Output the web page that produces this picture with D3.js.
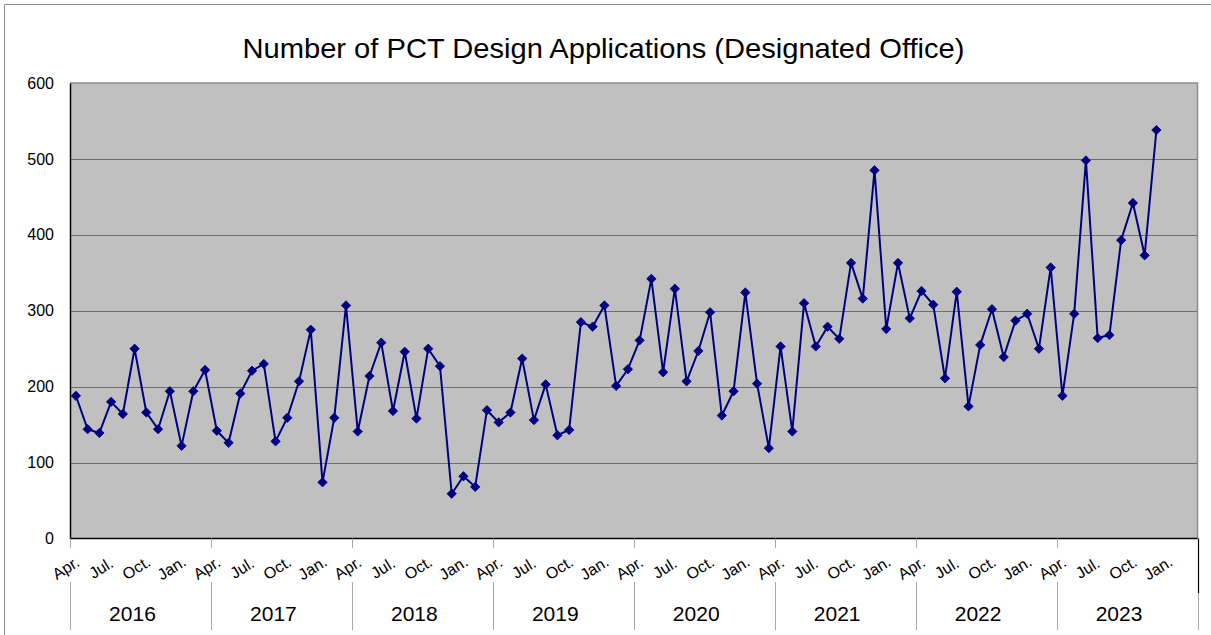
<!DOCTYPE html>
<html>
<head>
<meta charset="utf-8">
<script src="https://cdn.jsdelivr.net/npm/d3@7"></script>
<style>
  html, body { margin: 0; padding: 0; background: #fff; }
  svg { display: block; font-family: "Liberation Sans", Arial, sans-serif; }
</style>
</head>
<body>
<svg id="chart" width="1211" height="635"></svg>
<script>
// ---- data ----
const title = "Number of PCT Design Applications (Designated Office)";
const fiscalYears = ["2016", "2017", "2018", "2019", "2020", "2021", "2022", "2023"];
const months = ["Apr.", "May", "Jun.", "Jul.", "Aug.", "Sep.", "Oct.", "Nov.", "Dec.", "Jan.", "Feb.", "Mar."];
const labeledMonths = ["Apr.", "Jul.", "Oct.", "Jan."];
const yTicks = [0, 100, 200, 300, 400, 500, 600];
// monthly values, Apr. 2016 ... Dec. 2023
const applications = [
  188, 144, 139, 180, 164, 250, 166, 144, 194, 122, 194, 222,
  142, 126, 191, 221, 230, 128, 159, 207, 275, 74, 159, 307,
  141, 214, 258, 168, 246, 158, 250, 227, 59, 82, 68, 169,
  153, 166, 237, 156, 203, 136, 143, 285, 279, 307, 201, 223,
  261, 342, 219, 329, 207, 247, 298, 162, 194, 324, 204, 119,
  253, 141, 310, 253, 279, 263, 363, 316, 485, 276, 363, 290,
  326, 308, 211, 325, 174, 255, 302, 239, 287, 296, 250, 357,
  188, 296, 498, 264, 268, 393, 442, 373, 538
];

// ---- layout ----
const svg = d3.select("#chart");
const plot = { left: 70, right: 1197.5, top: 83, bottom: 538.5 };

const categories = [];
fiscalYears.forEach(y => months.forEach(m => categories.push(y + "|" + m)));

const x = d3.scaleBand().domain(categories).range([plot.left, plot.right]).padding(0);
const xYear = d3.scaleBand().domain(fiscalYears).range([plot.left, plot.right]).padding(0);
const y = d3.scaleLinear().domain([0, 600]).range([plot.bottom, plot.top]);

const data = applications.map((v, i) => ({ cat: categories[i], value: v }));

// outer chart border
svg.append("path")
  .attr("d", `M4.5,635 V4.5 H1211`)
  .attr("fill", "none").attr("stroke", "#8c8c8c").attr("stroke-width", 1);

// title
svg.append("text")
  .attr("transform", `translate(603.5,58) scale(1.04,1)`)
  .attr("text-anchor", "middle")
  .attr("font-size", 28)
  .attr("fill", "#000")
  .text(title);

// plot background
svg.append("rect")
  .attr("x", plot.left).attr("y", plot.top)
  .attr("width", plot.right - plot.left).attr("height", plot.bottom - plot.top)
  .attr("fill", "#c0c0c0");

// gridlines
svg.append("g")
  .selectAll("line")
  .data(yTicks.filter(t => t > 0 && t < 600))
  .join("line")
  .attr("x1", plot.left).attr("x2", plot.right)
  .attr("y1", d => Math.round(y(d)) + 0.5).attr("y2", d => Math.round(y(d)) + 0.5)
  .attr("stroke", "#6e6e6e").attr("stroke-width", 1);

// top & right plot border (grey)
svg.append("path")
  .attr("d", `M${plot.left},${plot.top} H${plot.right} V${plot.bottom}`)
  .attr("fill", "none").attr("stroke", "#8a8a8a").attr("stroke-width", 1.5);

// y axis
const yAxis = d3.axisLeft(y).tickValues(yTicks).tickSize(0).tickPadding(16);
const gy = svg.append("g").attr("transform", `translate(${plot.left},0)`).call(yAxis);
gy.select(".domain").attr("stroke", "#000").attr("stroke-width", 1.5);
gy.selectAll("text").attr("font-size", 16).attr("fill", "#000")
  .attr("font-family", "Liberation Sans, Arial, sans-serif");

// x axis baseline
svg.append("line")
  .attr("x1", plot.left).attr("x2", plot.right)
  .attr("y1", plot.bottom).attr("y2", plot.bottom)
  .attr("stroke", "#000").attr("stroke-width", 1.5);

// year dividers
const boundaries = fiscalYears.map(fy => xYear(fy)).concat([plot.right]);
const gDiv = svg.append("g");
boundaries.forEach((bx, i) => {
  const last = i === boundaries.length - 1;
  const xx = Math.round(bx) + 0.5;
  if (last) {
    gDiv.append("line").attr("x1", xx).attr("x2", xx).attr("y1", plot.bottom).attr("y2", 593)
      .attr("stroke", "#000").attr("stroke-width", 1.2);
    gDiv.append("line").attr("x1", xx).attr("x2", xx).attr("y1", 593).attr("y2", 630)
      .attr("stroke", "#a8a8a8").attr("stroke-width", 1);
  } else {
    gDiv.append("line").attr("x1", xx).attr("x2", xx).attr("y1", plot.bottom).attr("y2", 548)
      .attr("stroke", "#a8a8a8").attr("stroke-width", 1);
    gDiv.append("line").attr("x1", xx).attr("x2", xx).attr("y1", 582).attr("y2", 630)
      .attr("stroke", "#a8a8a8").attr("stroke-width", 1);
  }
});

// month labels
svg.append("g")
  .selectAll("text")
  .data(categories.filter(c => labeledMonths.includes(c.split("|")[1])))
  .join("text")
  .attr("transform", d => `translate(${x(d) + x.bandwidth() / 2 - 10},568) rotate(-32)`)
  .attr("text-anchor", "middle")
  .attr("dominant-baseline", "central")
  .attr("font-size", 16)
  .attr("fill", "#000")
  .text(d => d.split("|")[1]);

// year labels
svg.append("g")
  .selectAll("text")
  .data(fiscalYears)
  .join("text")
  .attr("x", d => xYear(d) + xYear.bandwidth() / 2 - 8)
  .attr("y", 621)
  .attr("text-anchor", "middle")
  .attr("font-size", 21)
  .attr("fill", "#000")
  .text(d => d);

// line
const line = d3.line()
  .x(d => x(d.cat) + x.bandwidth() / 2)
  .y(d => y(d.value));
svg.append("path")
  .datum(data)
  .attr("d", line)
  .attr("fill", "none")
  .attr("stroke", "#000080")
  .attr("stroke-width", 2)
  .attr("stroke-linejoin", "round");

// diamond markers
const diamond = d3.symbol().type(d3.symbolDiamond2).size(56);
svg.append("g")
  .selectAll("path")
  .data(data)
  .join("path")
  .attr("transform", d => `translate(${x(d.cat) + x.bandwidth() / 2},${y(d.value)})`)
  .attr("d", diamond)
  .attr("fill", "#000080")
  .attr("stroke", "#000080")
  .attr("stroke-width", 0.8);
</script>
</body>
</html>
